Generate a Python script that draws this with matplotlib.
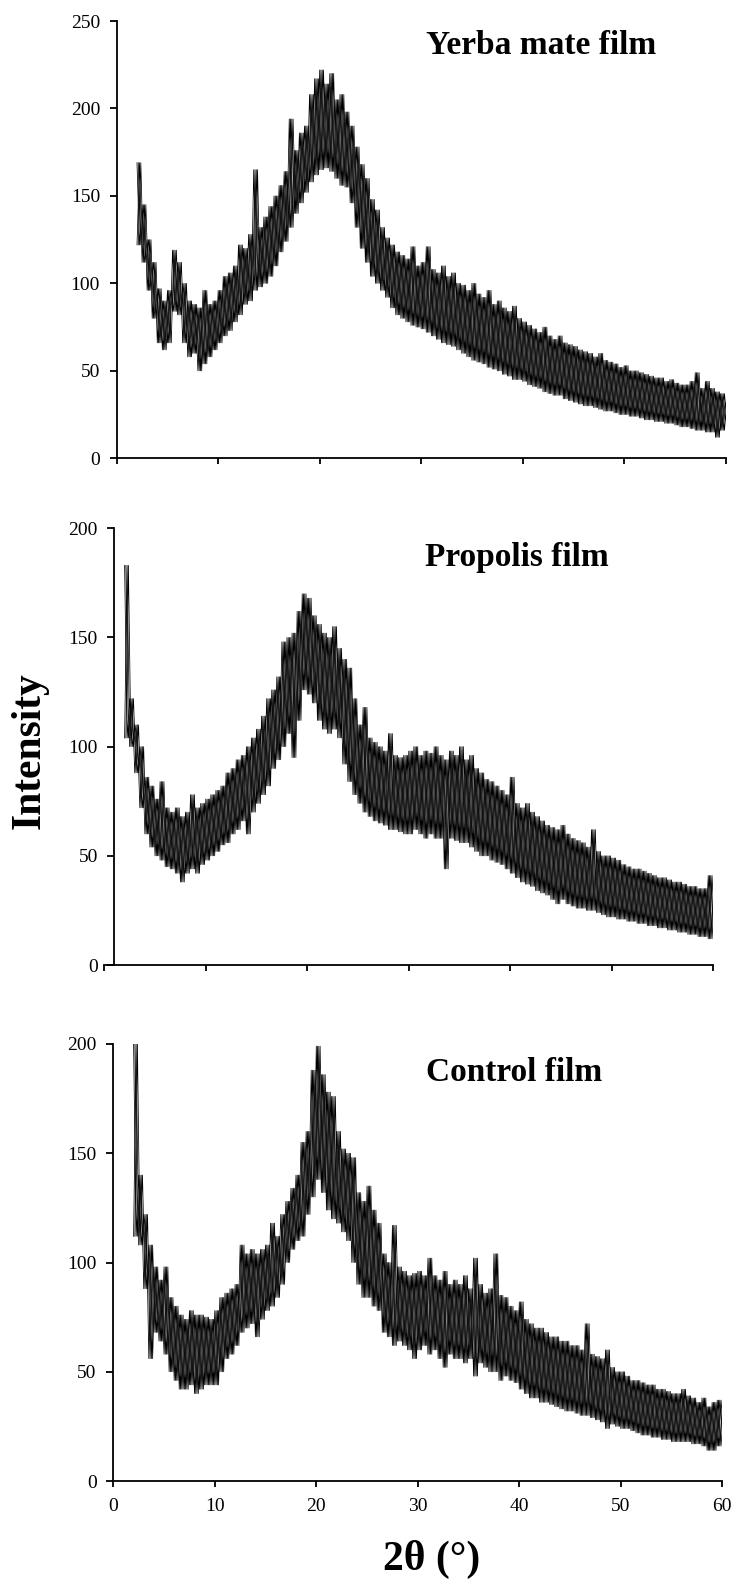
import numpy as np
import matplotlib.pyplot as plt

plt.rcParams['font.family'] = ['Liberation Serif', 'DejaVu Serif']

# 2theta sampling positions (deg), one hi/lo reading every 0.5 deg
theta = np.arange(2.0, 60.01, 0.5)

# values: upper and lower edge of the noisy trace
yerba_hi = [169, 145, 125, 112, 97, 90, 96, 119, 112, 100,
            90, 88, 86, 96, 88, 90, 96, 104, 106, 110,
            122, 120, 128, 165, 132, 138, 144, 150, 156, 164,
            194, 176, 186, 190, 208, 217, 222, 214, 220, 205,
            208, 198, 190, 178, 168, 160, 148, 142, 132, 126,
            122, 118, 116, 114, 121, 110, 112, 121, 108, 106,
            110, 104, 106, 100, 99, 96, 100, 94, 92, 96,
            88, 90, 86, 84, 87, 80, 78, 76, 74, 72,
            75, 70, 68, 70, 66, 65, 64, 62, 61, 60,
            58, 60, 56, 55, 54, 52, 53, 50, 50, 49,
            48, 47, 46, 46, 44, 45, 43, 42, 42, 44,
            49, 40, 44, 40, 38, 37, 32]
yerba_lo = [122, 112, 96, 80, 66, 62, 66, 84, 82, 66,
            58, 60, 50, 54, 58, 62, 66, 70, 73, 78,
            82, 88, 90, 96, 98, 100, 104, 110, 118, 124,
            132, 140, 146, 152, 158, 162, 165, 166, 164, 160,
            156, 155, 146, 132, 120, 112, 104, 100, 96, 92,
            86, 82, 80, 78, 76, 75, 74, 72, 70, 68,
            66, 65, 64, 62, 60, 58, 56, 55, 54, 52,
            51, 50, 48, 47, 45, 45, 44, 42, 41, 40,
            38, 37, 36, 36, 34, 33, 32, 31, 30, 30,
            29, 28, 27, 27, 26, 25, 25, 24, 24, 23,
            22, 22, 21, 21, 20, 20, 19, 18, 18, 17,
            16, 16, 15, 15, 12, 16, 22]

propolis_hi = [183, 122, 110, 100, 86, 82, 76, 84, 72, 70,
               72, 68, 70, 78, 72, 74, 76, 78, 80, 82,
               88, 90, 94, 96, 100, 104, 108, 114, 122, 126,
               132, 148, 150, 152, 162, 170, 168, 160, 156, 152,
               150, 155, 145, 140, 136, 122, 110, 118, 104, 102,
               100, 98, 106, 96, 95, 96, 98, 100, 96, 98,
               97, 100, 96, 94, 98, 96, 100, 94, 96, 90,
               88, 85, 84, 82, 80, 78, 86, 74, 72, 74,
               70, 68, 66, 64, 63, 62, 64, 60, 58, 57,
               56, 54, 62, 52, 50, 50, 49, 48, 46, 45,
               44, 44, 43, 42, 41, 40, 40, 39, 38, 38,
               37, 36, 36, 35, 35, 41, 32]
propolis_lo = [104, 100, 88, 72, 60, 54, 50, 48, 45, 44,
               42, 38, 42, 44, 42, 46, 48, 50, 52, 55,
               56, 60, 62, 66, 60, 70, 74, 78, 82, 90,
               94, 100, 106, 95, 112, 126, 124, 120, 112, 108,
               106, 108, 104, 92, 84, 78, 74, 70, 68, 66,
               65, 64, 62, 62, 61, 60, 60, 62, 60, 58,
               60, 58, 58, 44, 58, 57, 56, 56, 54, 52,
               50, 50, 48, 47, 46, 44, 42, 40, 38, 37,
               36, 34, 33, 32, 30, 28, 30, 28, 27, 26,
               26, 25, 25, 24, 23, 22, 22, 21, 21, 20,
               20, 19, 19, 18, 18, 17, 17, 16, 16, 15,
               15, 14, 14, 13, 13, 12, 16]

control_hi = [200, 140, 122, 108, 98, 92, 98, 84, 80, 76,
              74, 78, 76, 76, 75, 74, 78, 84, 86, 88,
              90, 108, 104, 106, 104, 106, 108, 118, 112, 122,
              128, 134, 140, 155, 160, 188, 199, 186, 178, 176,
              160, 152, 150, 148, 132, 128, 135, 124, 118, 104,
              100, 117, 98, 96, 94, 95, 96, 94, 102, 94,
              92, 96, 90, 92, 90, 94, 88, 102, 90, 86,
              88, 104, 85, 84, 80, 78, 82, 74, 72, 70,
              70, 68, 66, 66, 64, 64, 62, 62, 60, 72,
              58, 57, 56, 60, 52, 50, 50, 48, 46, 46,
              45, 44, 44, 42, 42, 41, 40, 40, 42, 39,
              38, 36, 38, 34, 36, 37, 33]
control_lo = [112, 108, 88, 56, 68, 64, 58, 50, 46, 42,
              42, 44, 40, 42, 44, 44, 44, 50, 56, 58,
              62, 68, 70, 72, 66, 74, 78, 80, 84, 90,
              100, 106, 110, 112, 122, 130, 138, 132, 124, 120,
              118, 114, 110, 100, 90, 84, 84, 80, 78, 68,
              66, 62, 64, 62, 60, 56, 60, 62, 58, 60,
              56, 52, 58, 56, 56, 54, 56, 48, 54, 52,
              50, 50, 46, 48, 46, 45, 42, 40, 38, 38,
              36, 36, 35, 34, 33, 32, 32, 31, 30, 30,
              29, 28, 27, 24, 26, 25, 24, 24, 23, 22,
              21, 21, 20, 20, 19, 19, 18, 18, 18, 18,
              17, 17, 16, 14, 14, 16, 22]

panel_titles = ["Yerba mate film", "Propolis film", "Control film"]
x_ticks = [0, 10, 20, 30, 40, 50, 60]


def zigzag(x, first, second, shift):
    # alternate between two readings so the trace looks like the noisy scan
    xs = np.empty(2 * len(x))
    ys = np.empty(2 * len(x))
    xs[0::2] = x + shift
    xs[1::2] = x + shift + 0.25
    ys[0::2] = first
    ys[1::2] = second
    return xs, ys


fig = plt.figure(figsize=(7.35, 15.83), dpi=100)
W, H = 735.0, 1583.0

# axes boxes in pixels: left (x=0), bottom (y=0), width, height
boxes = [(116.7, 458.3, 609, 437.3),
         (104.3, 965.0, 609, 436.7),
         (113.3, 1481.0, 609, 437.0)]
ymaxs = [250, 200, 200]
yaxis_at = [0, 1, 0]
series = [(yerba_hi, yerba_lo), (propolis_hi, propolis_lo), (control_hi, control_lo)]

for i in range(3):
    l, b, w, h = boxes[i]
    ax = fig.add_axes([l / W, 1 - b / H, w / W, h / H])
    hi = np.array(series[i][0])
    lo = np.array(series[i][1])
    # interleaved passes so the band gets as dense as the original scan
    passes = [(hi, lo, 0.0), (lo, hi, 0.0), (hi, lo, 0.125), (lo, hi, 0.125)]
    for first, second, shift in passes:
        xs, ys = zigzag(theta, first, second, shift)
        ax.plot(xs, ys, color='black', lw=0.55)

    ax.set_xlim(0, 60)
    ax.set_ylim(0, ymaxs[i])
    ax.set_xticks(x_ticks)
    ax.set_yticks(np.arange(0, ymaxs[i] + 1, 50))
    ax.spines['top'].set_visible(False)
    ax.spines['right'].set_visible(False)
    ax.spines['left'].set_position(('data', yaxis_at[i]))
    for s in ['left', 'bottom']:
        ax.spines[s].set_linewidth(1.3)
    ax.tick_params(axis='both', direction='out', width=1.3, labelsize=14, colors='black')
    ax.tick_params(axis='y', length=5, pad=7)
    ax.tick_params(axis='x', length=4.5, pad=8)
    if i < 2:
        ax.set_xticklabels([])

title_pos = [(541, 54), (517, 566), (514, 1081)]
for t, (px, py) in zip(panel_titles, title_pos):
    fig.text(px / W, 1 - py / H, t, ha='center', va='baseline',
             fontsize=24, fontweight='bold')

fig.text(30 / W, 1 - 750.5 / H, "Intensity", rotation=90, ha='center', va='center',
         fontsize=30, fontweight='bold')
fig.text(432 / W, 1 - 1570 / H, "2θ (°)", ha='center', va='baseline',
         fontsize=30, fontweight='bold')

fig.savefig("out.png", dpi=100)
